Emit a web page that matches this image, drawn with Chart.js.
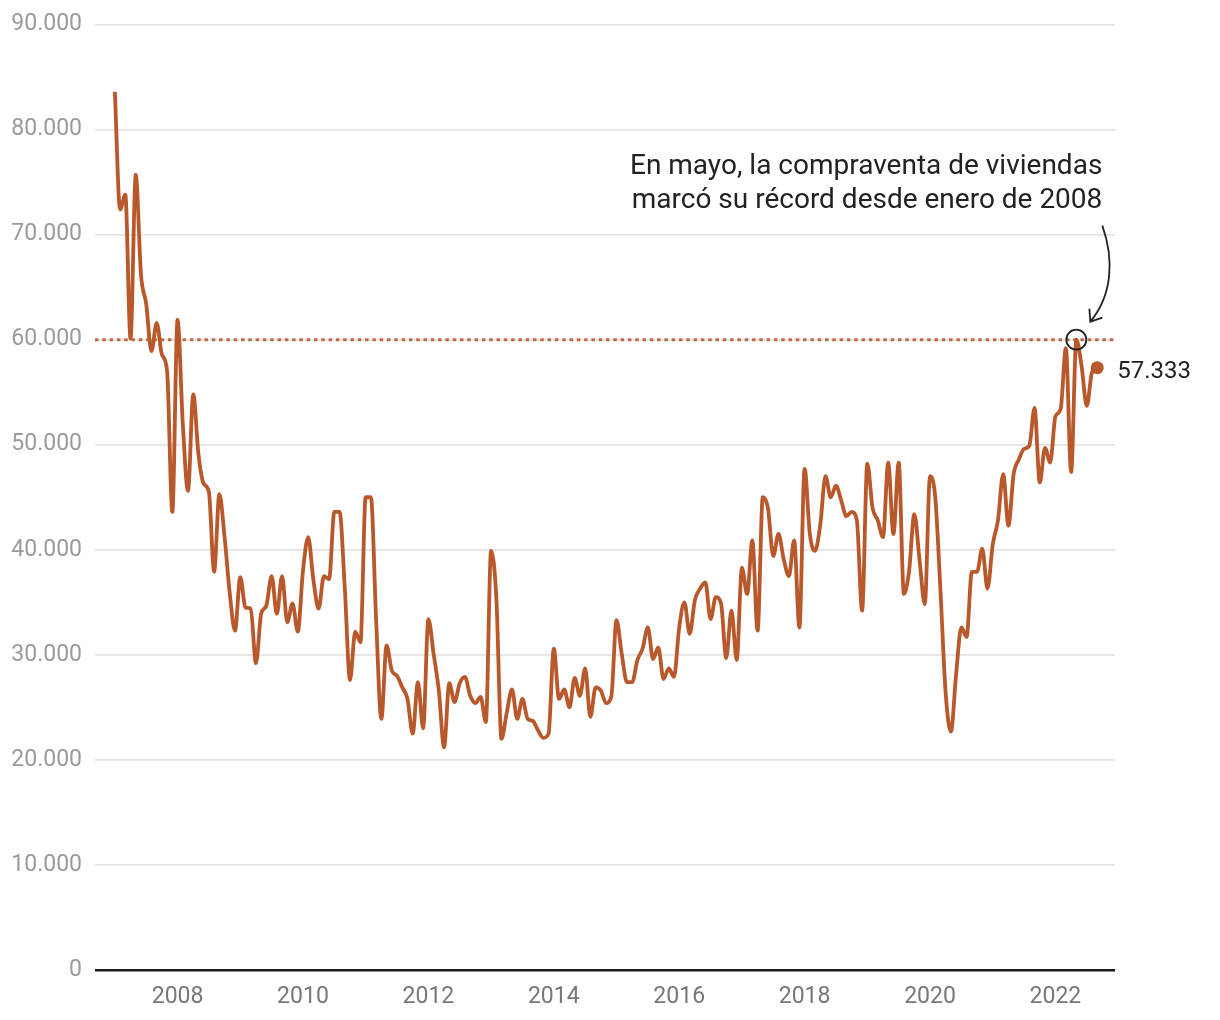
<!DOCTYPE html>
<html lang="es">
<head>
<meta charset="utf-8">
<title>Compraventa de viviendas</title>
<script src="https://cdn.jsdelivr.net/npm/chart.js@4.4.0/dist/chart.umd.min.js"></script>
<style>
	html, body { margin: 0; padding: 0; background: #fff; }
	#wrap { width: 1220px; height: 1020px; }
</style>
</head>
<body>
<div id="wrap"><canvas id="chart" width="1220" height="1020"></canvas></div>
<script>
// monthly values, thousands of sales, Jan 2007 .. Sep 2022
const years = [2007, 2008, 2009, 2010, 2011, 2012, 2013, 2014, 2015, 2016, 2017, 2018, 2019, 2020, 2021, 2022];
const sales = [
	83.6, 72.4, 73.8, 60.1, 75.7, 66.2, 63.4, 58.9, 61.6, 58.6, 57.0, 43.6,
	61.9, 52.0, 45.6, 54.8, 49.1, 46.3, 45.5, 37.9, 45.3, 41.2, 35.8, 32.3,
	37.4, 34.5, 34.4, 29.2, 33.9, 34.7, 37.5, 33.9, 37.5, 33.1, 34.9, 32.2,
	38.0, 41.2, 37.1, 34.4, 37.5, 37.2, 43.6, 43.6, 36.4, 27.6, 32.2, 31.2,
	45.0, 45.0, 33.3, 23.9, 30.9, 28.5, 28.0, 26.9, 25.8, 22.5, 27.4, 23.0,
	33.4, 30.1, 26.6, 21.2, 27.3, 25.5, 27.3, 27.9, 26.1, 25.4, 26.0, 23.6,
	39.9, 35.5, 22.0, 24.5, 26.7, 23.9, 25.8, 23.9, 23.7, 22.8, 22.1, 22.5,
	30.6, 25.8, 26.7, 25.0, 27.8, 26.1, 28.7, 24.1, 26.9, 26.6, 25.4, 26.0,
	33.3, 30.1, 27.4, 27.4, 29.5, 30.6, 32.6, 29.6, 30.7, 27.7, 28.7, 27.9,
	32.6, 35.0, 32.0, 35.2, 36.3, 36.9, 33.4, 35.5, 34.9, 29.7, 34.2, 29.5,
	38.3, 35.8, 40.9, 32.3, 45.0, 43.9, 39.4, 41.5, 39.1, 37.5, 40.9, 32.6,
	47.7, 41.5, 39.9, 42.4, 47.0, 45.0, 46.1, 44.7, 43.2, 43.6, 42.8, 34.2,
	48.2, 44.0, 42.8, 41.2, 48.3, 41.5, 48.3, 35.8, 38.0, 43.4, 39.0, 34.8,
	47.0, 45.0, 36.1, 26.3, 22.7, 28.2, 32.6, 31.7, 37.9, 37.9, 40.1, 36.3,
	40.5, 42.8, 47.2, 42.3, 47.2, 48.6, 49.6, 49.9, 53.5, 46.4, 49.7, 48.3,
	52.7, 53.4, 59.2, 47.4, 60.0, 57.5, 53.7, 56.9, 57.333,
];
const xTickYears = [2008, 2010, 2012, 2014, 2016, 2018, 2020, 2022];
const yTicks = [0, 10000, 20000, 30000, 40000, 50000, 60000, 70000, 80000, 90000];
const refLevel = 60000;
const noteLines = ['En mayo, la compraventa de viviendas', 'marcó su récord desde enero de 2008'];

const LINE = '#b9582b';
const DOTS = '#c46b43';
const INK = '#222';

function monthIndex(year) {
	return (year - years[0]) * 12;
}

function fmt(v) {
	return String(Math.round(v)).replace(/\B(?=(\d{3})+(?!\d))/g, '.');
}

const points = sales.map((v, i) => ({ x: i, y: Math.round(v * 1000) }));
const lastIdx = points.length - 1;
// highest month after Jan 2008
let peakIdx = 13;
points.forEach((p, i) => { if (i > 13 && p.y > points[peakIdx].y) peakIdx = i; });

const annotations = {
	id: 'annotations',
	beforeDatasetsDraw(chart) {
		const { ctx, chartArea, scales } = chart;
		const y = scales.y.getPixelForValue(refLevel);
		ctx.save();
		ctx.strokeStyle = DOTS;
		ctx.lineWidth = 3;
		ctx.setLineDash([3.5, 3.8]);
		ctx.beginPath();
		ctx.moveTo(chartArea.left, y);
		ctx.lineTo(chartArea.right, y);
		ctx.stroke();
		ctx.restore();
	},
	afterDatasetsDraw(chart) {
		const { ctx } = chart;
		const meta = chart.getDatasetMeta(0);
		const peak = meta.data[peakIdx];
		const last = meta.data[lastIdx];

		ctx.save();
		// circle around the peak
		ctx.strokeStyle = INK;
		ctx.lineWidth = 1.8;
		ctx.beginPath();
		ctx.arc(peak.x, peak.y, 10, 0, Math.PI * 2);
		ctx.stroke();

		// curved arrow
		const tipX = peak.x + 14, tipY = peak.y - 18;
		ctx.beginPath();
		ctx.moveTo(peak.x + 26, peak.y - 114);
		ctx.bezierCurveTo(peak.x + 38, peak.y - 80, peak.x + 36, peak.y - 45, tipX, tipY);
		ctx.stroke();
		ctx.beginPath();
		ctx.moveTo(tipX - 1, tipY - 13);
		ctx.lineTo(tipX, tipY);
		ctx.lineTo(tipX + 12, tipY - 4);
		ctx.stroke();

		// note
		ctx.fillStyle = INK;
		ctx.font = '28px Roboto';
		ctx.textAlign = 'right';
		ctx.textBaseline = 'alphabetic';
		ctx.fillText(noteLines[0], peak.x + 26, 174);
		ctx.fillText(noteLines[1], peak.x + 26, 208);

		// last value label
		ctx.font = '24px Roboto';
		ctx.textAlign = 'left';
		ctx.textBaseline = 'middle';
		ctx.fillText(fmt(sales[lastIdx] * 1000), last.x + 20, last.y + 4);
		ctx.restore();
	},
};

Chart.defaults.font.family = 'Roboto';

new Chart(document.getElementById('chart'), {
	type: 'line',
	data: {
		datasets: [
			{
				data: points,
				borderColor: LINE,
				borderWidth: 3.8,
				cubicInterpolationMode: 'monotone',
				pointRadius: (c) => (c.dataIndex === lastIdx ? 6.5 : 0),
				pointBackgroundColor: LINE,
				pointBorderWidth: 0,
				pointHoverRadius: 0,
				clip: false,
			},
		],
	},
	options: {
		responsive: false,
		animation: false,
		events: [],
		layout: { padding: { left: 0, right: 105, top: 23, bottom: 0 } },
		plugins: {
			legend: { display: false },
			tooltip: { enabled: false },
		},
		scales: {
			x: {
				type: 'linear',
				min: -3.8,
				max: 191.4,
				afterBuildTicks: (axis) => {
					axis.ticks = xTickYears.map((yr) => ({ value: monthIndex(yr) }));
				},
				afterFit: (axis) => { axis.height = 50; },
				grid: { display: false, drawTicks: false },
				border: { display: false },
				ticks: {
					autoSkip: false,
					maxRotation: 0,
					padding: 13,
					color: '#777',
					font: { size: 23 },
					callback: (v) => String(years[0] + v / 12),
				},
			},
			y: {
				min: 0,
				max: 90000,
				afterBuildTicks: (axis) => {
					axis.ticks = yTicks.map((v) => ({ value: v }));
				},
				afterFit: (axis) => { axis.width = 95; },
				grid: {
					drawTicks: false,
					color: (c) => (c.tick && c.tick.value === 0 ? '#1a1a1a' : '#e3e3e3'),
					lineWidth: (c) => (c.tick && c.tick.value === 0 ? 2.5 : 1.8),
				},
				border: { display: false },
				ticks: {
					padding: 13,
					color: '#9a9a9a',
					font: { size: 23, lineHeight: 1 },
					callback: (v) => fmt(v),
				},
			},
		},
	},
	plugins: [annotations],
});
</script>
</body>
</html>
